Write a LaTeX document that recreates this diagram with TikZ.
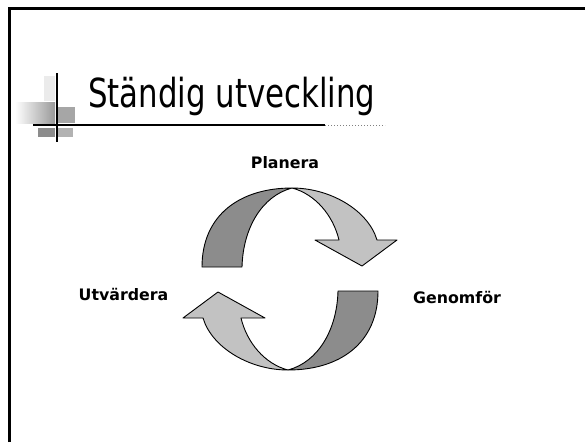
\documentclass[tikz,border=0pt]{standalone}
\usepackage{fontspec}
\setmainfont{DejaVu Sans}
\begin{document}
\begin{tikzpicture}[x=1pt,y=1pt,
  darkband/.style={draw=black, line width=0.9pt, fill=black!45, line join=round},
  lightband/.style={draw=black, line width=0.9pt, fill=black!24, line join=round},
  lbl/.style={inner sep=0pt, font=\bfseries\fontsize{15.8}{16}\selectfont}]
\useasboundingbox (0,0) rectangle (585,-442);
\fill[white] (0,0) rectangle (585,-442);
% frame (scan edges)
\draw[line width=3pt] (9,-442) -- (9,-8.5) -- (585,-8.5);
% logo
\fill[black!8] (44,-76) rectangle (55,-101);
\shade[left color=white, right color=black!40] (15,-102) rectangle (55,-123);
\fill[black!35] (58,-107) rectangle (75,-123);
\fill[black!45] (38,-128) rectangle (55,-137);
\fill[black!30] (58,-128) rectangle (73,-137);
\draw[line width=1.5pt] (57,-73) -- (57,-142);
\draw[line width=1.3pt] (33,-125) -- (325,-125);
\draw[line width=1pt, dotted, gray] (325,-125) -- (385,-125);
% title
\node[anchor=base west, inner sep=0pt, font=\fontsize{40}{40}\selectfont] (title) at (88,-107) {\scalebox{0.77}[1]{Ständig utveckling}};
% top arrow
\path[darkband] (202,-267) .. controls (202,-215) and (240,-188) .. (292,-188)
  .. controls (262,-196) and (243,-228) .. (242,-267) -- cycle;
\path[lightband] (292,-188) .. controls (330,-188) and (368,-210) .. (377,-240)
  -- (397,-240) -- (362,-266) -- (315,-240) -- (339,-240)
  .. controls (333,-215) and (315,-194) .. (292,-188) -- cycle;
% bottom arrow
\begin{scope}[rotate around={180:(290,-279)}]
\path[darkband] (202,-267) .. controls (202,-215) and (240,-188) .. (292,-188)
  .. controls (262,-196) and (243,-228) .. (242,-267) -- cycle;
\path[lightband] (292,-188) .. controls (330,-188) and (368,-210) .. (377,-240)
  -- (397,-240) -- (362,-266) -- (315,-240) -- (339,-240)
  .. controls (333,-215) and (315,-194) .. (292,-188) -- cycle;
\end{scope}
% labels
\node[lbl, anchor=base] (planera) at (285,-168) {Planera};
\node[lbl, anchor=base] (utvardera) at (123.5,-300) {Utvärdera};
\node[lbl, anchor=base west] (genomfor) at (413,-303) {Genomför};
\end{tikzpicture}
\end{document}
